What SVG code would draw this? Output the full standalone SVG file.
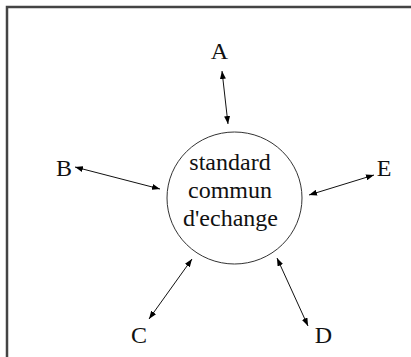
<svg xmlns="http://www.w3.org/2000/svg" width="411" height="357" viewBox="0 0 411 357">
<defs>
<marker id="ah" viewBox="0 0 8 6" refX="8" refY="3" markerWidth="8" markerHeight="6" markerUnits="userSpaceOnUse" orient="auto-start-reverse">
<path d="M0,0 L8,3 L0,6 Z" fill="#000"/>
</marker>
</defs>
<style>
text{font-family:"Liberation Serif","Times New Roman",serif;font-size:24px;fill:#111;text-anchor:middle}
.c{stroke:#111;stroke-width:1;fill:none;marker-start:url(#ah);marker-end:url(#ah)}
</style>
<rect width="411" height="357" fill="#fff"/>
<path d="M7,357 V7 H411" fill="none" stroke="#444" stroke-width="2.5"/>
<g id="center">
<ellipse cx="234.5" cy="198" rx="67.5" ry="66" fill="none" stroke="#333" stroke-width="1"/>
<text x="230" y="170">standard</text>
<text x="230" y="198">commun</text>
<text x="230.5" y="226">d'echange</text>
</g>
<g id="A"><text x="219.5" y="59">A</text></g>
<g id="B"><text x="64" y="176">B</text></g>
<g id="E"><text x="384" y="176">E</text></g>
<g id="C"><text x="139" y="343">C</text></g>
<g id="D"><text x="323.5" y="343">D</text></g>
<g id="connectors">
<line class="c" x1="222" y1="71" x2="228" y2="124"/>
<line class="c" x1="75" y1="167" x2="160" y2="189"/>
<line class="c" x1="374" y1="175" x2="309" y2="195"/>
<line class="c" x1="192" y1="259" x2="149" y2="319"/>
<line class="c" x1="277" y1="258" x2="308" y2="326"/>
</g>
</svg>
